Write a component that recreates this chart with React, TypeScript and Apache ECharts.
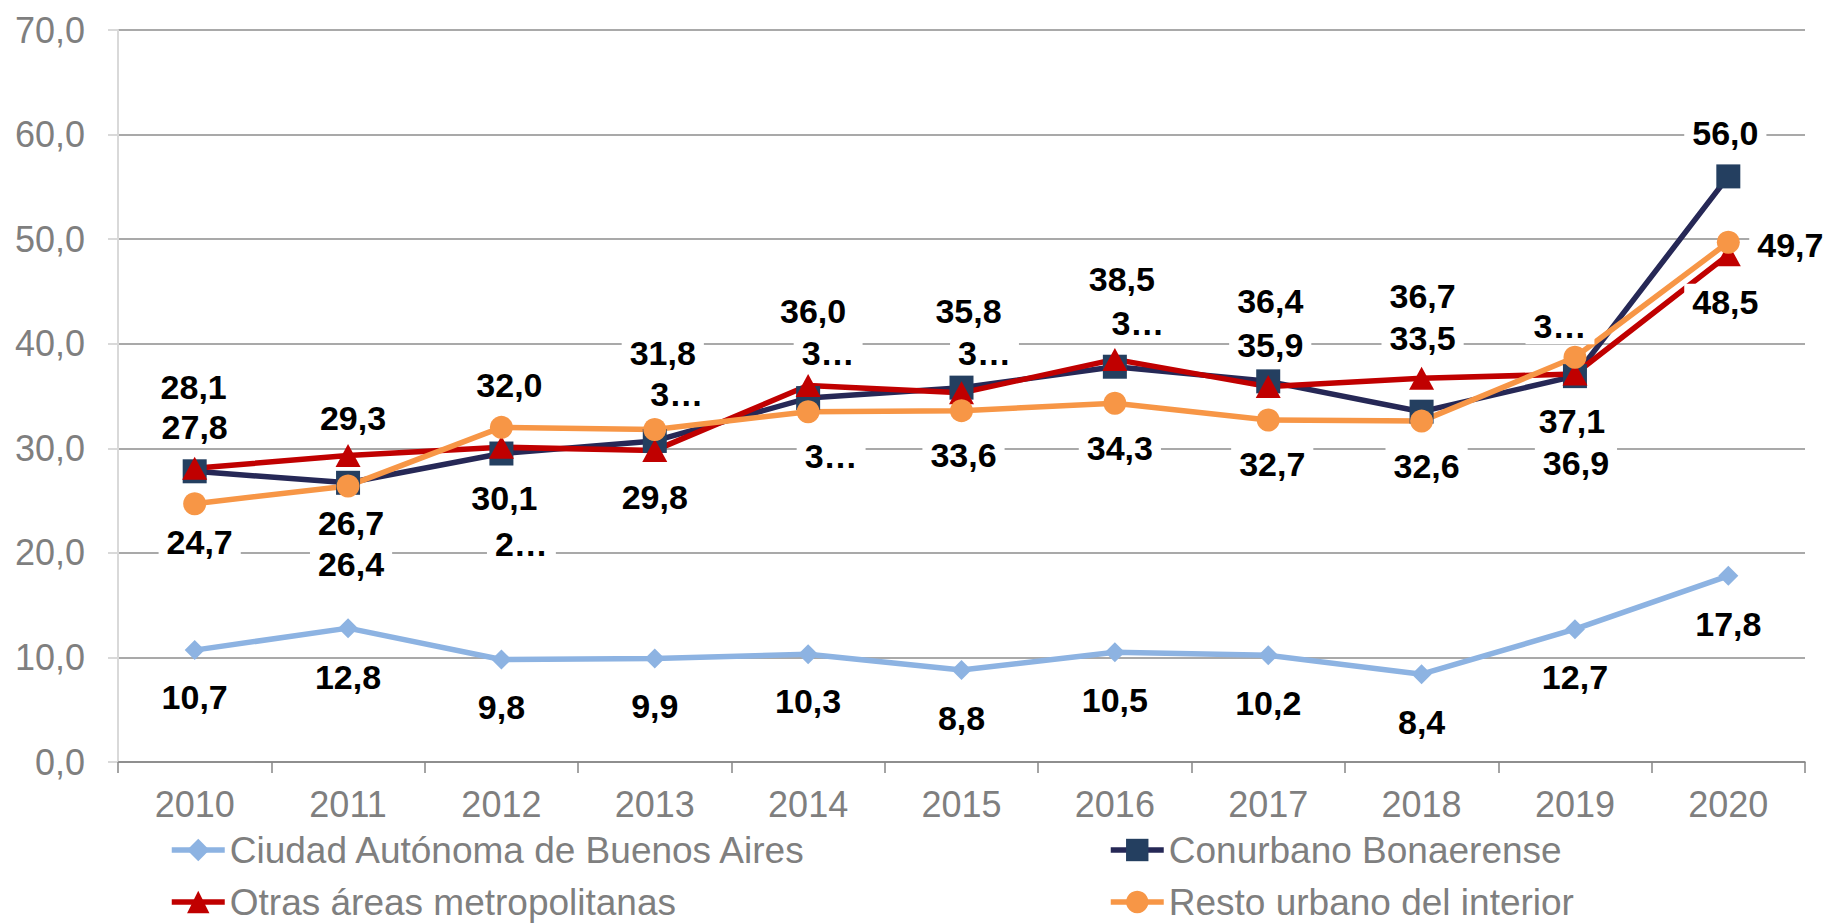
import React, { useEffect, useRef } from "react";
import * as echarts from "echarts";

const years = ["2010", "2011", "2012", "2013", "2014", "2015", "2016", "2017", "2018", "2019", "2020"];
const caba = [10.7, 12.8, 9.8, 9.9, 10.3, 8.8, 10.5, 10.2, 8.4, 12.7, 17.8];
const conurbano = [27.8, 26.7, 29.5, 30.7, 34.8, 35.8, 37.8, 36.4, 33.5, 36.9, 56.0];
const otras = [28.1, 29.3, 30.1, 29.8, 36.0, 35.3, 38.5, 35.9, 36.7, 37.1, 48.5];
const resto = [24.7, 26.4, 32.0, 31.8, 33.5, 33.6, 34.3, 32.7, 32.6, 38.7, 49.7];
const yTicks = [0, 10, 20, 30, 40, 50, 60, 70];

const names = [
  "Ciudad Autónoma de Buenos Aires",
  "Conurbano Bonaerense",
  "Otras áreas metropolitanas",
  "Resto urbano del interior",
];

// indices of labels that appear truncated ("3…") in the reference
const truncCaba: number[] = [];
const truncConurbano = [2, 3, 4, 6];
const truncOtras = [5];
const truncResto = [4, 9];

// label centre offsets relative to the point [dx, dy] (style only)
const offCaba = [[0, 47], [0, 49], [0, 47], [0, 48], [0, 47], [0, 48], [0, 48], [0, 48], [0, 48], [0, 48], [0, 48]];
const offConurbano = [[0, -44], [3, 40], [20, 90], [22, -47], [20, -45], [7, -77], [23, -44], [2, -80], [1, -74], [1, 87], [-3, -43]];
const offOtras = [[-1, -81], [5, -38], [3, 51], [0, 47], [5, -75], [23, -40], [7, -80], [2, -42], [1, -82], [-3, 47], [-3, 47]];
const offResto = [[5, 38], [3, 78], [8, -42], [8, -76], [23, 44], [2, 44], [5, 45], [4, 44], [5, 45], [-15, -31], [62, 3]];

// legend placement (style only): [left, top]
const legendPos = [[169, 831], [1108, 831], [169, 883], [1108, 883]];

const fmt = (v: number) => v.toFixed(1).replace(".", ",");

function buildData(vals: number[], offs: number[][], trunc: number[]) {
  return vals.map((v, i) => {
    const t = fmt(v);
    return {
      value: v,
      label: {
        offset: offs[i],
        formatter: trunc.indexOf(i) >= 0 ? t.charAt(0) + "…" : t,
      },
    };
  });
}

export default function App() {
  const ref = useRef<HTMLDivElement>(null);
  useEffect(() => {
    if (!ref.current) return;
    const chart = echarts.init(ref.current, undefined, { renderer: "svg" });
    const labelBase = {
      show: true,
      position: "inside" as const,
      fontFamily: "'Liberation Sans', Arial, sans-serif",
      fontSize: 34,
      fontWeight: "bold" as const,
      color: "#000000",
      backgroundColor: "#ffffff",
      padding: [1, 8],
    };
    const mk = (name: string, data: any[], color: string, markerColor: string, symbol: string, size: any) => ({
      name,
      type: "line",
      data,
      symbol,
      symbolSize: size,
      lineStyle: { color, width: 5.5 },
      itemStyle: { color: markerColor, borderWidth: 0 },
      label: labelBase,
      emphasis: { disabled: true },
      z: 2,
    });
    const legendText = {
      fontFamily: "'Liberation Sans', Arial, sans-serif",
      fontSize: 37,
      color: "#7f7f7f",
      lineHeight: 38,
    };
    const legends = names.map((n, i) => ({
      data: [n],
      orient: "horizontal",
      left: legendPos[i][0],
      top: legendPos[i][1],
      itemWidth: 53,
      itemHeight: 28,
      itemGap: 0,
      padding: 0,
      textStyle: legendText,
      lineStyle: { width: 5.5 },
      selectedMode: false,
    }));
    chart.setOption({
      animation: false,
      grid: { left: 118, right: 28, top: 30, bottom: 161, containLabel: false },
      legend: legends,
      xAxis: {
        type: "category",
        data: years,
        boundaryGap: true,
        axisLine: { lineStyle: { color: "#868686", width: 1.5 } },
        axisTick: { show: true, interval: 0, length: 11, lineStyle: { color: "#868686", width: 1.5 } },
        axisLabel: {
          fontFamily: "'Liberation Sans', Arial, sans-serif",
          fontSize: 36,
          color: "#7f7f7f",
          margin: 24,
        },
      },
      yAxis: {
        type: "value",
        min: yTicks[0],
        max: yTicks[yTicks.length - 1],
        interval: 10,
        axisLine: { show: true, lineStyle: { color: "#d9d9d9", width: 2 } },
        axisTick: { show: true, length: 10, lineStyle: { color: "#d9d9d9", width: 2 } },
        splitLine: { lineStyle: { color: "#8c8c8c", width: 1.5 } },
        axisLabel: {
          fontFamily: "'Liberation Sans', Arial, sans-serif",
          fontSize: 36,
          color: "#7f7f7f",
          margin: 33,
          formatter: (v: number) => fmt(v),
        },
      },
      series: [
        mk(names[0], buildData(caba, offCaba, truncCaba), "#8db3e2", "#8db3e2", "diamond", 20),
        mk(names[1], buildData(conurbano, offConurbano, truncConurbano), "#262856", "#243f60", "rect", 24),
        mk(names[2], buildData(otras, offOtras, truncOtras), "#c00000", "#c00000", "triangle", [25, 23]),
        mk(names[3], buildData(resto, offResto, truncResto), "#f79646", "#f79646", "circle", 23),
      ],
    });
    return () => chart.dispose();
  }, []);
  return (
    <div
      ref={ref}
      style={{ position: "fixed", left: 0, top: 0, width: 1833, height: 923, background: "#ffffff" }}
    />
  );
}
